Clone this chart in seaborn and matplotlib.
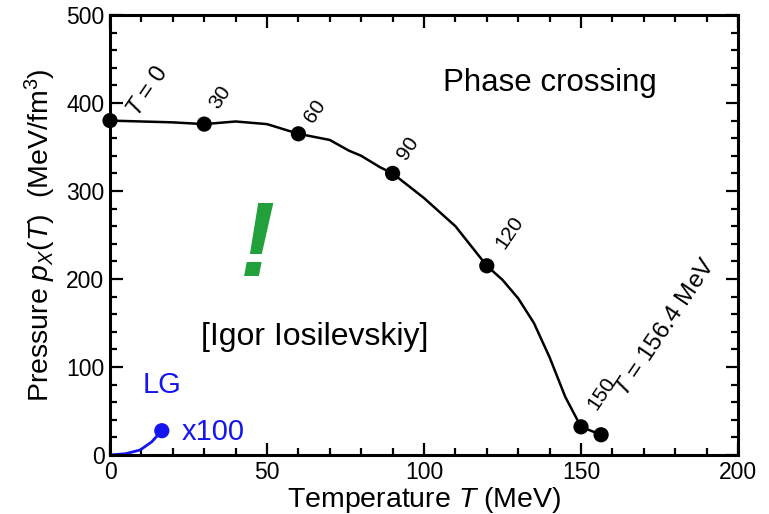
import matplotlib
matplotlib.use("Agg")
import matplotlib.pyplot as plt
import seaborn as sns
import pandas as pd
from matplotlib.ticker import MultipleLocator

# ---- data ----
T_curve = [0, 10, 20, 30, 40, 50, 60, 70, 76, 80, 86, 90, 100, 110, 120, 125, 130, 135, 140, 145, 150, 156.4]
p_curve = [380, 379, 378, 376, 379, 376, 365, 358, 346, 340, 327, 320, 292, 260, 215, 199, 178, 150, 111, 66, 32, 23]
T_dots = [0, 30, 60, 90, 120, 150, 156.4]
p_dots = [380, 376, 365, 320, 215, 32, 23]
dot_labels = ["30", "60", "90", "120", "150"]
T_lg = [0, 5, 9.6, 13.3, 16.5]
p_lg = [0, 1.5, 5.7, 15, 27.6]

sns.set_style("ticks")
plt.rcParams['font.family'] = ['Liberation Sans', 'DejaVu Sans']
plt.rcParams['mathtext.fontset'] = 'custom'
plt.rcParams['mathtext.rm'] = 'Liberation Sans'
plt.rcParams['mathtext.it'] = 'Liberation Sans:italic'
plt.rcParams['text.color'] = 'black'
plt.rcParams['axes.labelcolor'] = 'black'
plt.rcParams['xtick.color'] = 'black'
plt.rcParams['ytick.color'] = 'black'

fig = plt.figure(figsize=(7.69, 5.14), dpi=100)
ax = fig.add_axes([110/769, 1-455/514, (738-110)/769, (455-15)/514])

df = pd.DataFrame({"T": T_curve, "p": p_curve})
sns.lineplot(data=df, x="T", y="p", sort=False, color="black", lw=1.8, ax=ax)
sns.scatterplot(x=T_dots, y=p_dots, color="black", s=120, edgecolor="none", ax=ax, zorder=5, clip_on=False)
dlg = pd.DataFrame({"T": T_lg, "p": p_lg})
blue = "#1515f0"
sns.lineplot(data=dlg, x="T", y="p", sort=False, color=blue, lw=2.0, ax=ax)
sns.scatterplot(x=[T_lg[-1]], y=[p_lg[-1]], color=blue, s=120, edgecolor="none", ax=ax, zorder=5)

ax.set_xlim(0, 200)
ax.set_ylim(0, 500)
ax.xaxis.set_major_locator(MultipleLocator(50))
ax.xaxis.set_minor_locator(MultipleLocator(10))
ax.yaxis.set_major_locator(MultipleLocator(100))
ax.yaxis.set_minor_locator(MultipleLocator(20))
ax.tick_params(which="both", direction="in", top=True, right=True, width=1.6, colors="black")
ax.tick_params(which="major", length=9, labelsize=16.5, pad=4)
ax.tick_params(which="minor", length=5)
for s in ax.spines.values():
    s.set_linewidth(2.2)
    s.set_color("black")

ax.set_xlabel("Temperature $T$ (MeV)", fontsize=20.5, labelpad=1)
ax.set_ylabel("Pressure $p_X(T)$  (MeV/fm$^3$)", fontsize=20.5, labelpad=6)

rot = 56
ax.text(12.1, 413.6, "$T$ = 0", rotation=rot, fontsize=17, ha="center", va="center")
label_pos = [(35.0, 406.8), (65.3, 390.9), (94.9, 348.9), (127.1, 253.4), (156.7, 70.5)]
for (x, y), lab in zip(label_pos, dot_labels):
    ax.text(x, y, lab, rotation=rot, fontsize=15, ha="center", va="center")
ax.text(176.8, 144.3, "$T$ = 156.4 MeV", rotation=rot, fontsize=17.5, ha="center", va="center")

ax.text(140.1, 422.7, "Phase crossing", fontsize=22.5, ha="center", va="center")
ax.text(47.1, 235, "!", fontsize=76, fontweight="bold", fontstyle="italic", color="#22a03c", ha="center", va="center")
ax.text(65.3, 134, "[Igor Iosilevskiy]", fontsize=23, ha="center", va="center")
ax.text(16.6, 79.5, "LG", fontsize=21, color=blue, ha="center", va="center")
ax.text(32.8, 26, "x100", fontsize=21, color=blue, ha="center", va="center")

fig.savefig("out.png", dpi=100, facecolor="white")
